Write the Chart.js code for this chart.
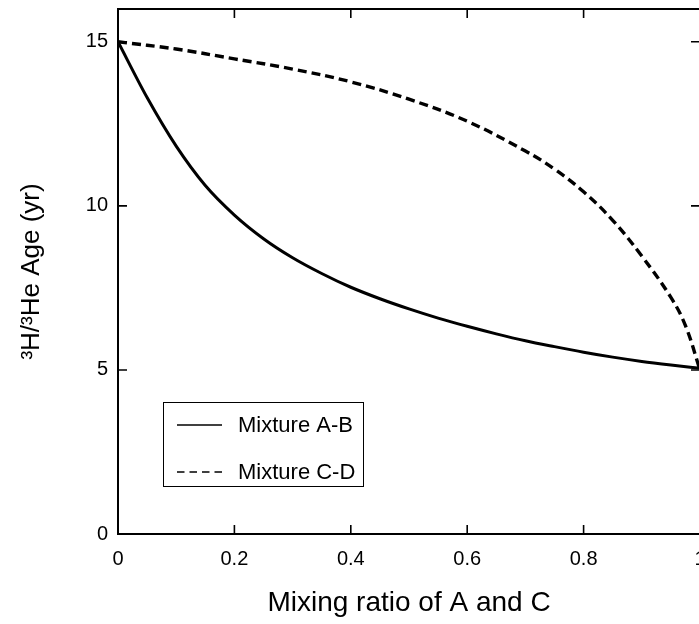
<!DOCTYPE html>
<html>
<head>
<meta charset="utf-8">
<script src="https://cdn.jsdelivr.net/npm/chart.js@4"></script>
<style>
html, body { margin: 0; padding: 0; overflow: hidden; background: #fff; }
#wrap { width: 699px; height: 624px; overflow: hidden; }
</style>
</head>
<body>
<div id="wrap"><canvas id="mixChart" width="704" height="624" style="width:704px;height:624px;"></canvas></div>
<script>
// mixing ratio (x) and 3H/3He age (y)
var ratioAB = [0, 0.05, 0.1, 0.15, 0.2, 0.25, 0.3, 0.35, 0.4, 0.45, 0.5, 0.55, 0.6, 0.65, 0.7, 0.75, 0.8, 0.85, 0.9, 0.95, 1.0];
var ageAB   = [15, 13.3, 11.82, 10.62, 9.72, 9.0, 8.42, 7.94, 7.52, 7.17, 6.86, 6.58, 6.33, 6.1, 5.89, 5.71, 5.54, 5.39, 5.26, 5.15, 5.05];

var ratioCD = [0, 0.1, 0.2, 0.3, 0.4, 0.5, 0.6, 0.7, 0.75, 0.8, 0.85, 0.9, 0.95, 0.975, 1.0];
var ageCD   = [15, 14.78, 14.48, 14.17, 13.78, 13.25, 12.58, 11.67, 11.12, 10.43, 9.56, 8.47, 7.21, 6.35, 5.0];

var xTickVals = [0, 0.2, 0.4, 0.6, 0.8, 1];
var yTickVals = [0, 5, 10, 15];
var seriesLabels = ['Mixture A-B', 'Mixture C-D'];

var FONT = '"Liberation Sans", Arial, Helvetica, sans-serif';

function toPoints(xs, ys) {
	var out = [];
	for (var i = 0; i < xs.length; i++) { out.push({ x: xs[i], y: ys[i] }); }
	return out;
}

function noPadding(s) {
	s.paddingLeft = 0; s.paddingRight = 0; s.paddingTop = 0; s.paddingBottom = 0;
}

// frame, inward ticks and the boxed legend
var frameTicks = {
	id: 'frameTicks',
	afterDraw: function (chart) {
		var ctx = chart.ctx, a = chart.chartArea;
		var xs = chart.scales.x, ys = chart.scales.y;
		ctx.save();
		ctx.strokeStyle = '#000';
		ctx.lineWidth = 2;
		ctx.strokeRect(a.left, a.top, a.right - a.left, a.bottom - a.top);

		ctx.lineWidth = 1.6;
		ctx.beginPath();
		xTickVals.forEach(function (v) {
			var px = xs.getPixelForValue(v);
			ctx.moveTo(px, a.bottom); ctx.lineTo(px, a.bottom - 9);
			ctx.moveTo(px, a.top); ctx.lineTo(px, a.top + 9);
		});
		yTickVals.forEach(function (v) {
			var py = ys.getPixelForValue(v);
			ctx.moveTo(a.left, py); ctx.lineTo(a.left + 9, py);
			ctx.moveTo(a.right, py); ctx.lineTo(a.right - 9, py);
		});
		ctx.stroke();

		// legend box
		var bx = 163, by = 402, bw = 200, bh = 84;
		ctx.lineWidth = 1;
		ctx.strokeRect(bx + 0.5, by + 0.5, bw, bh);
		var rows = [425, 472];
		chart.data.datasets.forEach(function (ds, i) {
			ctx.beginPath();
			ctx.lineWidth = 1.6;
			ctx.setLineDash(ds.borderDash && ds.borderDash.length ? [7.5, 5] : []);
			ctx.moveTo(177, rows[i]); ctx.lineTo(222, rows[i]);
			ctx.stroke();
			ctx.setLineDash([]);
			ctx.fillStyle = '#000';
			ctx.font = '22px ' + FONT;
			ctx.textAlign = 'left';
			ctx.textBaseline = 'middle';
			ctx.fillText(ds.label, 238, rows[i] + 1);
		});
		ctx.restore();
	}
};

var ctx = document.getElementById('mixChart').getContext('2d');
var myChart = new Chart(ctx, {
	type: 'line',
	data: {
		datasets: [
			{
				label: seriesLabels[0],
				data: toPoints(ratioAB, ageAB),
				borderColor: '#000', borderWidth: 3,
				pointRadius: 0, fill: false,
				cubicInterpolationMode: 'monotone'
			},
			{
				label: seriesLabels[1],
				data: toPoints(ratioCD, ageCD),
				borderColor: '#000', borderWidth: 3.4,
				borderDash: [9, 5],
				pointRadius: 0, fill: false,
				tension: 0.4
			}
		]
	},
	options: {
		responsive: false,
		animation: false,
		layout: { padding: { top: 9, right: 4, left: 0, bottom: 0 } },
		scales: {
			x: {
				type: 'linear', min: 0, max: 1,
				afterBuildTicks: function (s) { s.ticks = xTickVals.map(function (v) { return { value: v }; }); },
				afterFit: function (s) { s.height = 90; noPadding(s); },
				grid: { display: false, drawTicks: false },
				border: { display: false },
				ticks: {
					color: '#000', padding: 13, maxRotation: 0,
					font: { family: FONT, size: 20 },
					callback: function (v) { return String(v); }
				},
				title: {
					display: true, text: 'Mixing ratio of A and C', color: '#000',
					font: { family: FONT, size: 28 },
					padding: { top: 0, bottom: 4 }
				}
			},
			y: {
				type: 'linear', min: 0, max: 16,
				afterBuildTicks: function (s) { s.ticks = yTickVals.map(function (v) { return { value: v }; }); },
				afterFit: function (s) { s.width = 118; noPadding(s); },
				grid: { display: false, drawTicks: false },
				border: { display: false },
				ticks: {
					color: '#000', padding: 10,
					font: { family: FONT, size: 20 },
					callback: function (v) { return String(v); }
				},
				title: {
					display: true, text: '³H/³He Age (yr)', color: '#000',
					font: { family: FONT, size: 26 },
					padding: { top: 16, bottom: 0 }
				}
			}
		},
		plugins: {
			legend: { display: false },
			tooltip: { enabled: false }
		}
	},
	plugins: [frameTicks]
});
</script>
</body>
</html>
